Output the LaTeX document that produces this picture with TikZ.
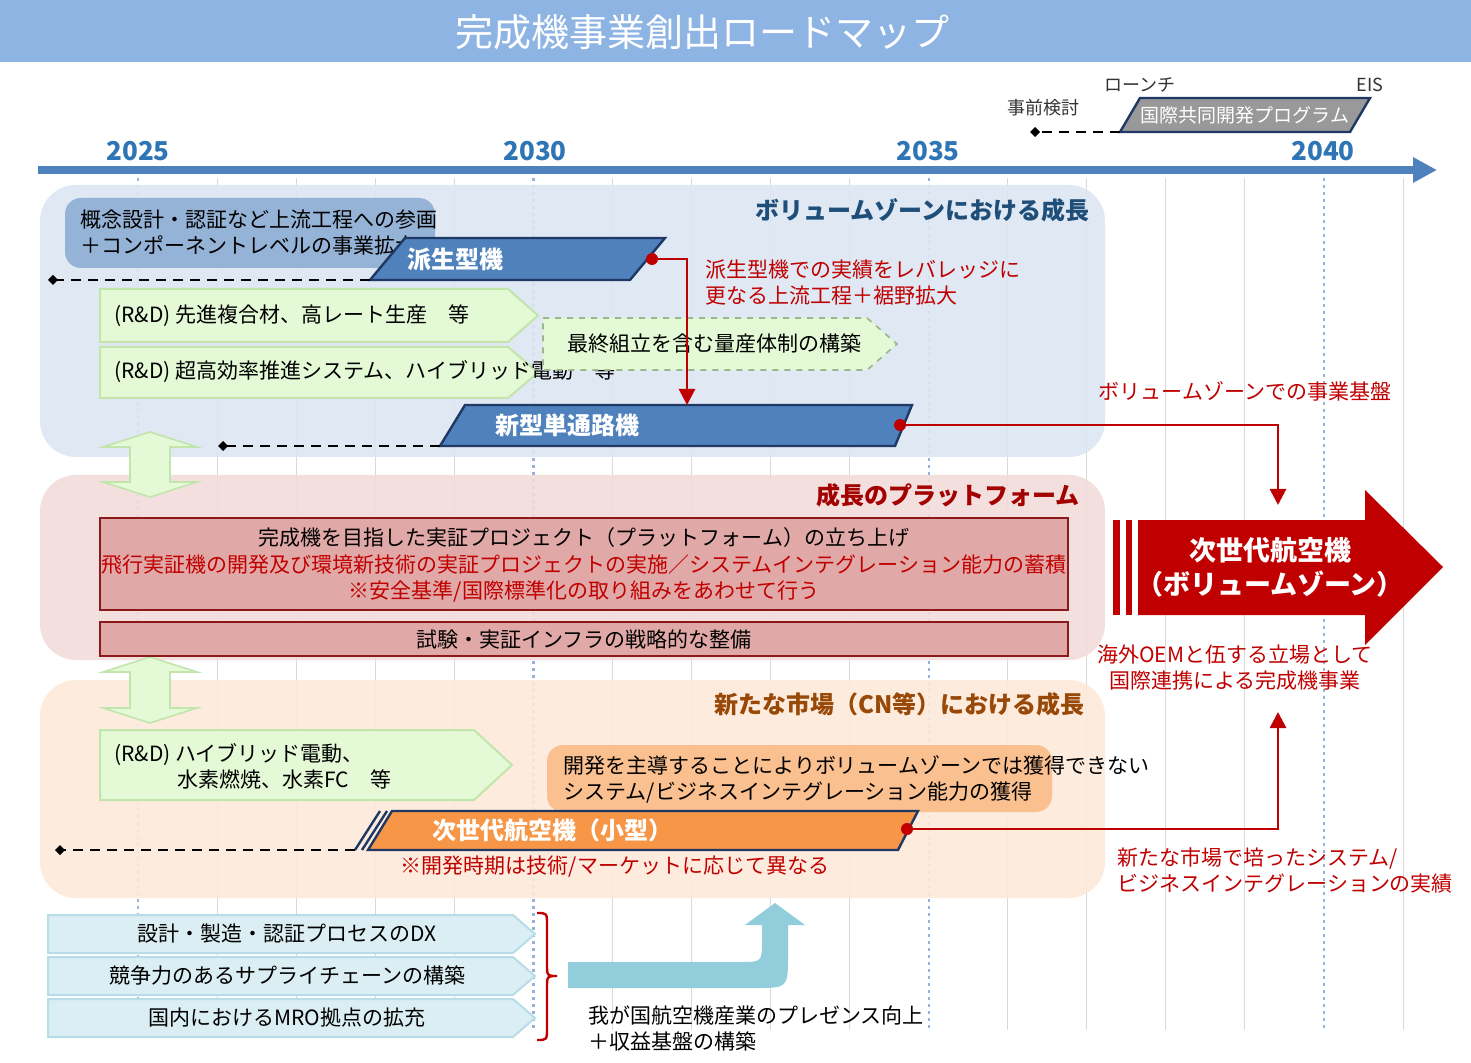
\documentclass[tikz,border=0pt]{standalone}
\usepackage{fontspec}
\setmainfont{Noto Sans CJK JP}
\usetikzlibrary{arrows.meta}
\definecolor{titleblue}{HTML}{8EB4E3}
\definecolor{tlblue}{HTML}{4F81BD}
\definecolor{yearblue}{HTML}{2E75B6}
\definecolor{p1}{HTML}{DCE6F2}
\definecolor{p2}{HTML}{F2DCDB}
\definecolor{p3}{HTML}{FDEADA}
\definecolor{boxblue}{HTML}{95B3D7}
\definecolor{parblue}{HTML}{4F81BD}
\definecolor{darkblue}{HTML}{1F3864}
\definecolor{grfill}{HTML}{E4F9D6}
\definecolor{grline}{HTML}{C2E5AC}
\definecolor{myred}{HTML}{C00000}
\definecolor{pinkbox}{HTML}{DA9694}
\definecolor{pinkline}{HTML}{8B1A1A}
\definecolor{orbox}{HTML}{FAC090}
\definecolor{orpar}{HTML}{F79646}
\definecolor{lbfill}{HTML}{DAEEF3}
\definecolor{lbline}{HTML}{B7DDE8}
\definecolor{bentblue}{HTML}{92CDDC}
\definecolor{t1col}{HTML}{1F4E79}
\definecolor{t3col}{HTML}{984807}
\definecolor{gridgray}{HTML}{D9D9D9}
\newcommand\pentshape[6]{\path[#6] (#1,#2) -- ({#3-#5},#2) -- (#3,{(#2+#4)/2}) -- ({#3-#5},#4) -- (#1,#4) -- cycle;}
\tikzset{
  dashline/.style={line width=1.1pt, dash pattern=on 5pt off 3.5pt, -{Diamond[length=5pt,width=5pt]}},
  redcon/.style={myred, line width=1.4pt, -{Triangle[length=8pt,width=8pt]}},
  txt/.style={font=\fontsize{10.5}{13}\selectfont, inner sep=0pt},
  ptitle/.style={font=\fontsize{12}{14}\selectfont\bfseries, inner sep=0pt, anchor=east},
  parlabel/.style={font=\fontsize{12}{14}\selectfont\bfseries, white, inner sep=0pt},
}
\begin{document}
\begin{tikzpicture}[x=0.5pt,y=-0.5pt]
\useasboundingbox (0,0) rectangle (1471,1063);
\fill[white] (0,0) rectangle (1471,1063);
% title
\fill[titleblue] (0,0) rectangle (1471,62);
\node[white, font=\fontsize{19}{20}\selectfont, inner sep=0pt] (title) at (702,32) {完成機事業創出ロードマップ};
% grid lines
\foreach \i in {1,2,3,4,6,7,8,9,11,12,13,14,16} {
  \draw[gridgray, line width=0.5pt] ({138+79.07*\i},178) -- ({138+79.07*\i},1030);
}
\foreach \i in {0,5,10,15} {
  \draw[boxblue, line width=1.2pt, dash pattern=on 1.5pt off 2pt] ({138+79.07*\i},178) -- ({138+79.07*\i},1030);
}
% timeline
\coordinate (tl0) at (38,170); \coordinate (tl1) at (1437,170);
\draw[tlblue, line width=4pt, -{Triangle[length=12pt,width=12pt]}] (tl0) -- (tl1);
\foreach \y/\x in {2025/138,2030/535,2035/928,2040/1323}
  \node[yearblue, font=\fontsize{13}{14}\selectfont\bfseries, inner sep=0pt] (y\y) at (\x,151) {\y};
% top right program
\path[fill=gray!80, draw=darkblue, line width=1.2pt] (1120,132) -- (1140,98) -- (1370,98) -- (1350,132) -- cycle;
\node[white, txt, font=\fontsize{9.5}{11}\selectfont] (intl) at (1245,115) {国際共同開発プログラム};
\coordinate (intlw) at (1120,132); \coordinate (intlend) at (1030,132);
\draw[dashline] (intlw) -- (intlend);
\node[txt, font=\fontsize{9}{11}\selectfont, gray!40!black] (launch) at (1140,85) {ローンチ};
\node[txt, font=\fontsize{9}{11}\selectfont, gray!40!black] (eis) at (1370,85) {EIS};
\node[txt, font=\fontsize{9}{11}\selectfont, gray!40!black] (pre) at (1043,108) {事前検討};

% panels
\fill[p1, opacity=0.9, rounded corners=18pt] (40,185) rectangle (1105,457);
\fill[p2, opacity=0.9, rounded corners=18pt] (40,475) rectangle (1105,660);
\fill[p3, opacity=0.9, rounded corners=18pt] (40,680) rectangle (1105,898);
\node[ptitle, t1col] (pt1) at (1090,210) {ボリュームゾーンにおける成長};
\node[ptitle, myred!85!black] (pt2) at (1080,495) {成長のプラットフォーム};
\node[ptitle, t3col] (pt3) at (1085,704) {新たな市場（CN等）における成長};

% panel 1
\fill[boxblue, rounded corners=8pt] (65,198) rectangle (435,268);
\node[txt, align=left, anchor=west] (up) at (80,233) {概念設計・認証など上流工程への参画\\＋コンポーネントレベルの事業拡大};
\path[fill=parblue, draw=darkblue, line width=1.2pt] (370,280) -- (405,238) -- (665,238) -- (630,280) -- cycle;
\node[parlabel] (hasei) at (455,259) {派生型機};
\coordinate (haseiw) at (370,280); \coordinate (haseiend) at (48,280);
\draw[dashline] (haseiw) -- (haseiend);
\pentshape{100}{289}{538}{342}{30}{fill=grfill, draw=grline, line width=1pt}
\node[txt, anchor=west] (rd1) at (114,316) {(R\&D) 先進複合材、高レート生産　等};
\pentshape{100}{347}{538}{398}{30}{fill=grfill, draw=grline, line width=1pt}
\node[txt, anchor=west] (rd2) at (114,372) {(R\&D) 超高効率推進システム、ハイブリッド電動　等};
\pentshape{543}{318}{897}{370}{30}{fill=grfill, draw=grline!80!black, line width=0.8pt, dashed}
\node[txt, anchor=west] (mass) at (567,344) {最終組立を含む量産体制の構築};
\path[fill=parblue, draw=darkblue, line width=1.2pt] (440,446) -- (465,405) -- (912,405) -- (895,446) -- cycle;
\node[parlabel] (single) at (567,425) {新型単通路機};
\coordinate (singlew) at (440,446); \coordinate (singleend) at (218,446);
\draw[dashline] (singlew) -- (singleend);
\fill[myred] (652,259) circle (3pt) coordinate (d1);
\coordinate (singletop) at (687,405);
\draw[redcon] (d1) -| (singletop);
\node[txt, myred, align=left, anchor=west] (lev) at (705,283) {派生型機での実績をレバレッジに\\更なる上流工程＋裾野拡大};

% big red arrow
\fill[myred] (1113,520) rectangle (1120,615);
\fill[myred] (1126,520) rectangle (1132,615);
\fill[myred] (1138,520) -- (1365,520) -- (1365,490) -- (1443,567) -- (1365,645) -- (1365,615) -- (1138,615) -- cycle;
\node[white, font=\fontsize{13.5}{17}\selectfont\bfseries, align=center, inner sep=0pt] (next) at (1270,567) {次世代航空機\\（ボリュームゾーン）};
\coordinate (nexttop) at (1278,505); \coordinate (nextbot) at (1278,712);
\fill[myred] (900,425) circle (3pt) coordinate (d2);
\draw[redcon] (d2) -| (nexttop);
\node[txt, myred] (vzbase) at (1245,391) {ボリュームゾーンでの事業基盤};
\node[txt, myred, align=center] (oem) at (1235,668) {海外OEMと伍する立場として\\国際連携による完成機事業};

% green double arrows
\foreach \a/\b in {432/497,657/723}{
 \fill[grfill, draw=grline, line width=0.8pt] (150,\a) -- (197,{\a+15}) -- (170,{\a+15}) -- (170,{\b-15}) -- (197,{\b-15}) -- (150,\b) -- (103,{\b-15}) -- (130,{\b-15}) -- (130,{\a+15}) -- (103,{\a+15}) -- cycle;
}

% panel 2
\fill[pinkbox!75!p2, draw=pinkline, line width=1.2pt] (100,518) rectangle (1068,610);
\node[txt] (pf1) at (584,538) {完成機を目指した実証プロジェクト（プラットフォーム）の立ち上げ};
\node[txt, myred] (pf2) at (584,565) {飛行実証機の開発及び環境新技術の実証プロジェクトの実施／システムインテグレーション能力の蓄積};
\node[txt, myred] (pf3) at (584,592) {※安全基準/国際標準化の取り組みをあわせて行う};
\fill[pinkbox!75!p2, draw=pinkline, line width=1.2pt] (100,622) rectangle (1068,656);
\node[txt] (infra) at (584,639) {試験・実証インフラの戦略的な整備};

% panel 3
\pentshape{100}{730}{512}{800}{38}{fill=grfill, draw=grline, line width=1pt}
\node[txt, align=left, anchor=west] (rd3) at (114,766) {(R\&D) ハイブリッド電動、\\　　　水素燃焼、水素FC　等};
\fill[orbox, rounded corners=8pt] (547,745) rectangle (1052,812);
\node[txt, align=left, anchor=west] (lead) at (563,779) {開発を主導することによりボリュームゾーンでは獲得できない\\システム/ビジネスインテグレーション能力の獲得};
\path[fill=orpar, draw=darkblue, line width=1.2pt] (368,850) -- (392,811) -- (918,811) -- (898,850) -- cycle;
\draw[darkblue, line width=1.2pt] (355,850) -- (380,811);
\draw[darkblue, line width=1.2pt] (362,850) -- (387,811);
\node[parlabel] (small) at (552,830) {次世代航空機（小型）};
\coordinate (smallw) at (355,850); \coordinate (smallend) at (55,850);
\draw[dashline] (smallw) -- (smallend);
\node[txt, myred] (timing) at (615,867) {※開発時期は技術/マーケットに応じて異なる};
\fill[myred] (907,829) circle (3pt) coordinate (d3);
\draw[redcon] (d3) -| (nextbot);
\node[txt, myred, align=left, anchor=west] (newmkt) at (1117,871) {新たな市場で培ったシステム/\\ビジネスインテグレーションの実績};

% bottom
\pentshape{48}{915}{535}{953}{22}{fill=lbfill, draw=lbline, line width=1pt}
\node[txt] (dx) at (287,934) {設計・製造・認証プロセスのDX};
\pentshape{48}{957}{535}{995}{22}{fill=lbfill, draw=lbline, line width=1pt}
\node[txt] (sc) at (287,976) {競争力のあるサプライチェーンの構築};
\pentshape{48}{999}{535}{1037}{22}{fill=lbfill, draw=lbline, line width=1pt}
\node[txt] (mro) at (287,1018) {国内におけるMRO拠点の拡充};
\draw[myred, line width=1.2pt] (537,913) .. controls (547,913) .. (547,925) -- (547,964) .. controls (547,976) .. (557,976) .. controls (547,976) .. (547,988) -- (547,1028) .. controls (547,1040) .. (537,1040);
\fill[bentblue] (568,962) -- (740,962) .. controls (762,962) .. (762,940) -- (762,925) -- (745,925) -- (775,903) -- (805,925) -- (788,925) -- (788,955) .. controls (788,988) .. (755,988) -- (568,988) -- cycle;
\node[txt, align=left, anchor=west] (pres) at (588,1028) {我が国航空機産業のプレゼンス向上\\＋収益基盤の構築};
\end{tikzpicture}
\end{document}
